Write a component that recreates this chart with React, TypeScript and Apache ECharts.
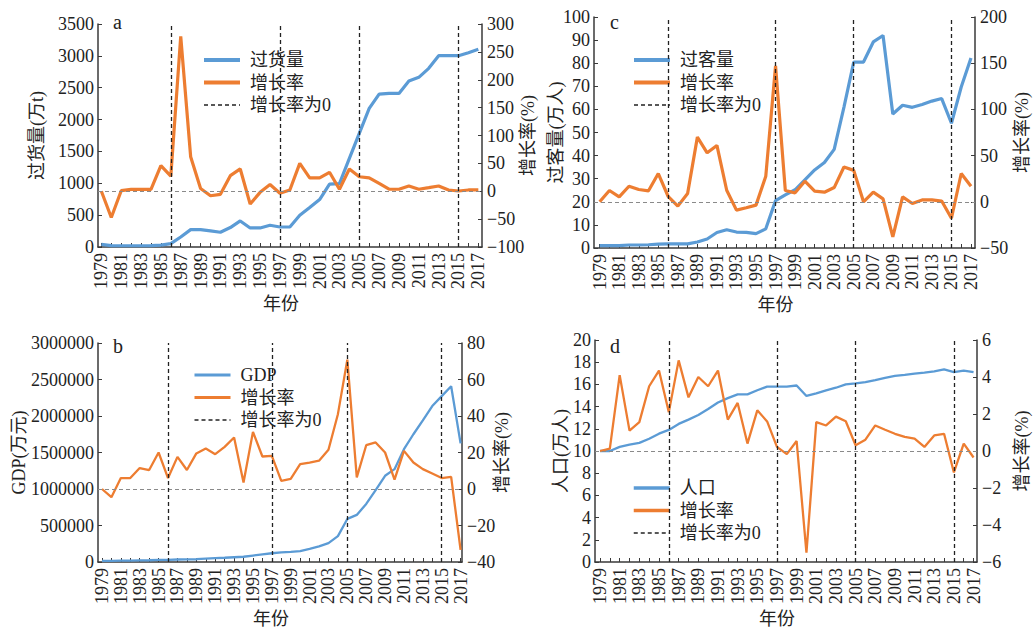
import React, { useEffect, useRef } from 'react';
import * as echarts from 'echarts';

const years = [1979, 1980, 1981, 1982, 1983, 1984, 1985, 1986, 1987, 1988, 1989, 1990, 1991, 1992, 1993, 1994, 1995, 1996, 1997, 1998, 1999, 2000, 2001, 2002, 2003, 2004, 2005, 2006, 2007, 2008, 2009, 2010, 2011, 2012, 2013, 2014, 2015, 2016, 2017];
const labelYears = [1979, 1981, 1983, 1985, 1987, 1989, 1991, 1993, 1995, 1997, 1999, 2001, 2003, 2005, 2007, 2009, 2011, 2013, 2015, 2017];

// a: 过货量 (万t) and growth (%)
const cargoVolume = [42, 22, 20, 20, 20, 22, 30, 53, 157, 273, 273, 252, 231, 305, 409, 299, 299, 341, 314, 314, 498, 619, 745, 986, 996, 1390, 1782, 2175, 2400, 2410, 2410, 2605, 2663, 2804, 3003, 3003, 3003, 3050, 3103];
const cargoGrowth = [0, -47, 1, 3.5, 3.5, 3.5, 46, 27, 278, 62, 5, -8, -5.5, 28, 40, -23, -2, 12, -3.5, 2.3, 50, 24, 24, 34, 3.6, 40, 26, 24, 14, 3.6, 3.6, 9.5, 3.6, 6.5, 9.5, 2.3, 0.5, 2.3, 2.3];

// b: GDP (万元) and growth (%)
const gdp = [15000, 16000, 18000, 20000, 22000, 24000, 28000, 30000, 34000, 36000, 38000, 45000, 52000, 58000, 65000, 72000, 88000, 104000, 120000, 133000, 140000, 150000, 181000, 213000, 259000, 354000, 590000, 645000, 795000, 986000, 1181000, 1272000, 1545000, 1750000, 1940000, 2136000, 2272000, 2408000, 1625000];
const gdpGrowth = [0, -4.5, 6, 6, 11.5, 10.4, 20, 6, 17.6, 10.4, 19.5, 22.2, 19.1, 23.1, 28.2, 3.6, 31.3, 17.8, 18.2, 4.5, 5.5, 13.6, 14.5, 15.5, 21.5, 41, 70.9, 6.4, 24, 25.5, 20, 5.1, 20.9, 14.5, 10.9, 8.5, 6, 6.7, -33.3];

// c: 过客量 (万人) and growth (%)
const passengerVolume = [1.0, 1.0, 1.0, 1.3, 1.3, 1.4, 1.7, 1.8, 1.8, 1.8, 2.6, 3.9, 6.7, 7.9, 6.9, 6.8, 6.2, 8.3, 20.5, 23, 25.2, 29.5, 33.8, 37, 42.7, 61, 80.5, 80.5, 89.2, 92, 58, 61.8, 60.9, 62.1, 63.6, 64.7, 54, 69.7, 82.3];
const passengerGrowth = [0, 12.2, 5.4, 16.8, 13.3, 11.9, 30.6, 6.0, -4.7, 9, 70, 53, 61, 12.5, -9, -6.5, -3.6, 27.7, 147, 12.2, 9.7, 22.3, 11.5, 10.4, 15.4, 37.6, 34, 0, 10.4, 3.2, -38, 5.4, -1.8, 2, 2, 0.8, -17.8, 30.6, 16.8];

// d: 人口 (万人) and growth (%)
const population = [10.0, 10.0, 10.37, 10.58, 10.73, 11.1, 11.56, 11.9, 12.44, 12.83, 13.24, 13.78, 14.37, 14.76, 15.1, 15.1, 15.47, 15.8, 15.8, 15.8, 15.9, 14.96, 15.2, 15.47, 15.7, 16.0, 16.09, 16.2, 16.38, 16.59, 16.77, 16.86, 16.98, 17.07, 17.18, 17.35, 17.1, 17.24, 17.1];
const popGrowth = [0, 0.13, 4.1, 1.1, 1.56, 3.5, 4.35, 2.1, 4.9, 2.9, 4.0, 3.5, 4.35, 1.7, 2.6, 0.4, 2.2, 1.6, 0.22, -0.17, 0.54, -5.5, 1.56, 1.38, 1.86, 1.61, 0.31, 0.61, 1.38, 1.15, 0.93, 0.76, 0.67, 0.22, 0.84, 0.93, -1.16, 0.4, -0.35];

const markerYears = [1986, 1997, 2005, 2015];

const BLUE = '#5B9BD5';
const ORANGE = '#ED7D31';
const INK = '#222222';
const AXIS = '#3a3a3a';
const FONT = '"Liberation Serif", "Times New Roman", "Noto Sans CJK SC", serif';

type Panel = {
  key: string;
  letter: string;
  mainName: string;
  leftName: string;
  main: number[];
  growth: number[];
  grid: { left: number; top: number; width: number; height: number };
  xMin: number;
  xMax: number;
  left: { min: number; max: number; interval: number; nameGap: number };
  right: { min: number; max: number; interval: number; nameGap: number };
  legend: { left: number; top: number };
  lineWidth: number;
  legendWidth: number;
  letterPos: { left: number; top: number };
};

const panels: Panel[] = [
  {
    key: 'a', letter: 'a', mainName: '过货量', leftName: '过货量(万t)',
    main: cargoVolume, growth: cargoGrowth,
    grid: { left: 98, top: 24, width: 384, height: 223 },
    xMin: 1978.66, xMax: 2017.37,
    left: { min: 0, max: 3500, interval: 500, nameGap: 52 },
    right: { min: -100, max: 300, interval: 50, nameGap: 37 },
    legend: { left: 197, top: 46 },
    lineWidth: 3.2,
    legendWidth: 4,
    letterPos: { left: 113, top: 12 },
  },
  {
    key: 'b', letter: 'b', mainName: 'GDP', leftName: 'GDP(万元)',
    main: gdp, growth: gdpGrowth,
    grid: { left: 98, top: 343, width: 364, height: 220 },
    xMin: 1978.58, xMax: 2017.15,
    left: { min: 0, max: 3000000, interval: 500000, nameGap: 70 },
    right: { min: -40, max: 80, interval: 20, nameGap: 31 },
    legend: { left: 188, top: 361 },
    lineWidth: 2.3,
    legendWidth: 3,
    letterPos: { left: 113, top: 336 },
  },
  {
    key: 'c', letter: 'c', mainName: '过客量', leftName: '过客量(万人)',
    main: passengerVolume, growth: passengerGrowth,
    grid: { left: 594, top: 17, width: 381, height: 231 },
    xMin: 1978.42, xMax: 2017.41,
    left: { min: 0, max: 100, interval: 10, nameGap: 29 },
    right: { min: -50, max: 200, interval: 50, nameGap: 38 },
    legend: { left: 627, top: 46 },
    lineWidth: 3.2,
    legendWidth: 4,
    letterPos: { left: 610, top: 12 },
  },
  {
    key: 'd', letter: 'd', mainName: '人口', leftName: '人口(万人)',
    main: population, growth: popGrowth,
    grid: { left: 595, top: 340, width: 382, height: 225 },
    xMin: 1978.49, xMax: 2017.35,
    left: { min: 0, max: 20, interval: 2, nameGap: 25 },
    right: { min: -6, max: 6, interval: 2, nameGap: 36 },
    legend: { left: 627, top: 474 },
    lineWidth: 2.3,
    legendWidth: 3.5,
    letterPos: { left: 610, top: 336 },
  },
];

const textBase = { fontFamily: FONT, fontSize: 18, color: INK };

function buildOption() {
  const grid: any[] = [];
  const xAxis: any[] = [];
  const yAxis: any[] = [];
  const series: any[] = [];
  const legend: any[] = [];
  const graphic: any[] = [];

  panels.forEach((p, i) => {
    grid.push({ ...p.grid, containLabel: false });
    xAxis.push({
      type: 'value',
      gridIndex: i,
      min: p.xMin,
      max: p.xMax,
      axisLine: { show: true, onZero: false, lineStyle: { color: AXIS, width: 1.5 } },
      axisTick: {
        show: true, inside: true, length: 4, customValues: years,
        lineStyle: { color: AXIS, width: 1 },
      },
      axisLabel: {
        ...textBase,
        rotate: 90,
        margin: 6,
        customValues: labelYears,
        hideOverlap: false,
        formatter: (v: number) => String(Math.round(v)),
      },
      splitLine: { show: false },
      name: '年份',
      nameLocation: 'middle',
      nameGap: 48,
      nameMoveOverlap: false,
      nameTextStyle: { ...textBase, padding: [0, 18, 0, 0] },
    });
    const yCommon = {
      type: 'value',
      gridIndex: i,
      axisLine: { show: true, lineStyle: { color: AXIS, width: 1.5 } },
      axisTick: { show: true, inside: true, length: 4, lineStyle: { color: AXIS, width: 1 } },
      splitLine: { show: false },
      nameLocation: 'middle',
      nameRotate: 90,
      nameMoveOverlap: false,
      nameTextStyle: { ...textBase },
    };
    yAxis.push({
      ...yCommon,
      position: 'left',
      min: p.left.min,
      max: p.left.max,
      interval: p.left.interval,
      axisLabel: { ...textBase, margin: 4, formatter: (v: number) => String(v) },
      name: p.leftName,
      nameGap: p.left.nameGap,
    });
    yAxis.push({
      ...yCommon,
      position: 'right',
      min: p.right.min,
      max: p.right.max,
      interval: p.right.interval,
      axisLabel: {
        ...textBase,
        margin: 5,
        formatter: (v: number) => String(v).replace('-', '\u2212'),
      },
      name: '增长率(%)',
      nameGap: p.right.nameGap,
    });

    const mainId = p.mainName + '|' + p.key;
    const growthId = '增长率|' + p.key;
    const zeroId = '增长率为0|' + p.key;

    series.push({
      name: mainId,
      type: 'line',
      xAxisIndex: i,
      yAxisIndex: i * 2,
      data: years.map((y, k) => [y, p.main[k]]),
      symbol: 'none',
      lineStyle: { color: BLUE, width: p.lineWidth },
      itemStyle: { color: BLUE },
      z: 3,
    });
    series.push({
      name: growthId,
      type: 'line',
      xAxisIndex: i,
      yAxisIndex: i * 2 + 1,
      data: years.map((y, k) => [y, p.growth[k]]),
      symbol: 'none',
      lineStyle: { color: ORANGE, width: p.lineWidth },
      itemStyle: { color: ORANGE },
      z: 4,
      markLine: {
        silent: true,
        symbol: ['none', 'none'],
        label: { show: false },
        data: [
          { yAxis: 0, lineStyle: { color: '#8a8a8a', type: [4, 3], width: 1.2 } },
          ...markerYears.map((yr) => ({ xAxis: yr, lineStyle: { color: INK, type: [4, 3], width: 1.3 } })),
        ],
      },
    });
    series.push({
      name: zeroId,
      type: 'line',
      xAxisIndex: i,
      yAxisIndex: i * 2 + 1,
      data: [],
      symbol: 'none',
      lineStyle: { color: INK, type: [4, 3], width: 1.3 },
      itemStyle: { color: INK },
    });

    legend.push({
      orient: 'vertical',
      left: p.legend.left,
      top: p.legend.top,
      itemWidth: 36,
      itemHeight: 14,
      itemGap: 4.5,
      selectedMode: false,
      itemStyle: { opacity: 0 },
      data: [
        { name: mainId, lineStyle: { width: p.legendWidth } },
        { name: growthId, lineStyle: { width: p.legendWidth } },
        { name: zeroId, lineStyle: { width: 1.4 } },
      ],
      formatter: (n: string) => n.split('|')[0],
      textStyle: { ...textBase, lineHeight: 18, padding: [0, 0, 0, 5] },
    });

    graphic.push({
      type: 'text',
      left: p.letterPos.left,
      top: p.letterPos.top,
      style: { text: p.letter, font: '20px "Liberation Serif", serif', fill: INK },
    });
  });

  return {
    animation: false,
    backgroundColor: '#ffffff',
    grid,
    xAxis,
    yAxis,
    series,
    legend,
    graphic,
  };
}

export default function App() {
  const ref = useRef<HTMLDivElement>(null);
  useEffect(() => {
    if (!ref.current) return;
    const chart = echarts.init(ref.current, undefined, { renderer: 'svg' });
    chart.setOption(buildOption() as any);
    return () => chart.dispose();
  }, []);
  return (
    <div
      ref={ref}
      style={{ position: 'fixed', left: 0, top: 0, width: 1034, height: 629, background: '#fff' }}
    />
  );
}
